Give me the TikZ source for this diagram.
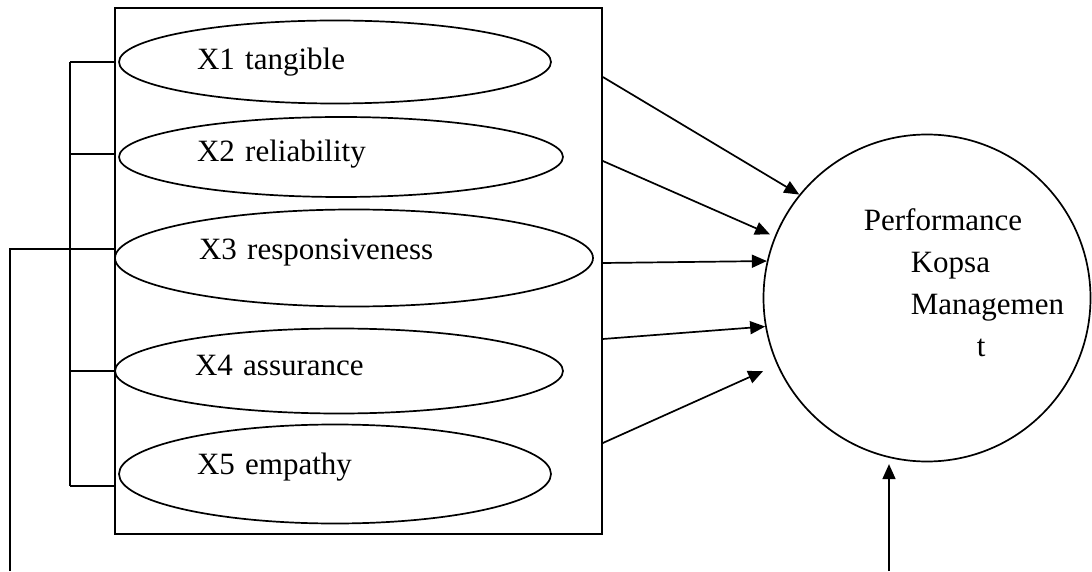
\documentclass[tikz,border=0pt]{standalone}
\usepackage{fontspec}
\setmainfont{Liberation Serif}
\usepackage{tikz}
\usetikzlibrary{arrows.meta,positioning,shapes.geometric,calc}

\begin{document}
\begin{tikzpicture}[
  x=1pt, y=1pt,
  line width=1.7pt,
  font=\fontsize{31}{42}\selectfont,
  oval/.style={draw, ellipse, align=left, inner sep=2pt, text height=22pt, text depth=13pt},
  arr/.style={-{Triangle[length=15pt,width=13pt]}}
]
\useasboundingbox (0,0) rectangle (1092,571);

\node[draw, rectangle, minimum width=487, minimum height=526] (frame) at (358.5,300) {};

\node[oval, minimum width=432, minimum height=83, text width=276pt, text depth=7pt] (x1) at (335,509) {X1 tangible};
\node[oval, minimum width=444, minimum height=80, text width=288pt] (x2) at (341,414) {X2 reliability};
\node[oval, minimum width=478, minimum height=97, text width=310pt, text depth=19pt] (x3) at (354,313) {X3 responsiveness};
\node[oval, minimum width=448, minimum height=85, text width=288pt] (x4) at (339,200) {X4 assurance};
\node[oval, minimum width=432, minimum height=99, text width=276pt, text depth=21pt] (x5) at (335,97) {X5 empathy};

\node[draw, circle, minimum size=327] (perf) at (927,273) {};
\node[align=left, anchor=north west, inner sep=0pt] (perfText) at (863,363)
  {Performance\\\hspace*{47pt}Kopsa\\\hspace*{47pt}Managemen\\\hspace*{113pt}t};

% bracket on the left
\coordinate (b1) at (70,509);
\coordinate (b2) at (70,417);
\coordinate (b3) at (70,322);
\coordinate (b4) at (70,200);
\coordinate (b5) at (70,85);
\draw (b1) -- (b5);
\foreach \i in {1,...,5}
  \draw (b\i) -- (b\i -| frame.west);

\coordinate (foot) at (10,0);
\draw (foot) |- (frame.west |- b3);

\draw[arr] ([yshift=194]frame.east) -- (perf.141.6);
\draw[arr, shorten >=5pt] ([yshift=110]frame.east) -- (perf.158.9);
\draw[arr] ([yshift=8]frame.east) -- (perf.167.6);
\draw[arr] ([yshift=-68]frame.east) -- (perf.190.4);
\draw[arr, shorten >=15pt] ([yshift=-172]frame.east) -- (perf.204.7);

\coordinate (base) at (889,0);
\draw[arr, shorten >=6pt] (base) -- (base |- perf.257.1);
\end{tikzpicture}
\end{document}
